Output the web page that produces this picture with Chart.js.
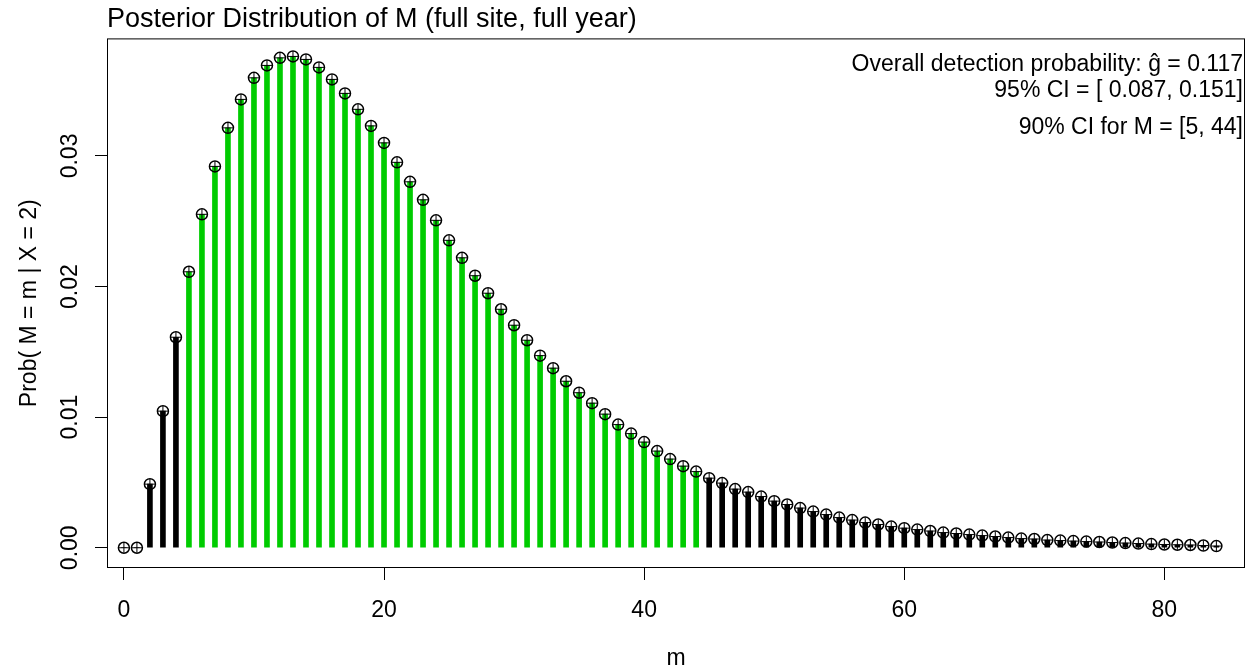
<!DOCTYPE html>
<html>
<head>
<meta charset="utf-8">
<script src="https://cdn.jsdelivr.net/npm/chart.js@4.4.1/dist/chart.umd.min.js"></script>
<style>
  html, body { margin: 0; padding: 0; background: #fff; }
</style>
</head>
<body>
<canvas id="c" width="1259" height="668"></canvas>
<script>
// m values (categories)
const mValues = [0, 1, 2, 3, 4, 5, 6, 7, 8, 9, 10, 11, 12, 13, 14, 15, 16, 17, 18, 19, 20,
  21, 22, 23, 24, 25, 26, 27, 28, 29, 30, 31, 32, 33, 34, 35, 36, 37, 38, 39, 40,
  41, 42, 43, 44, 45, 46, 47, 48, 49, 50, 51, 52, 53, 54, 55, 56, 57, 58, 59, 60,
  61, 62, 63, 64, 65, 66, 67, 68, 69, 70, 71, 72, 73, 74, 75, 76, 77, 78, 79, 80,
  81, 82, 83, 84];

// Prob(M = m | X = 2)
const probValues = [0, 0, 0.00487, 0.01046, 0.01612, 0.02113, 0.02553, 0.02920, 0.03215, 0.03433,
  0.03598, 0.03693, 0.03751, 0.03762, 0.03739, 0.03678, 0.03586, 0.03479, 0.03357, 0.03230,
  0.03100, 0.02951, 0.02802, 0.02664, 0.02507, 0.02354, 0.02220, 0.02083, 0.01949, 0.01826,
  0.01704, 0.01589, 0.01471, 0.01375, 0.01275, 0.01187, 0.01107, 0.01023, 0.00943, 0.00874,
  0.00809, 0.00740, 0.00679, 0.00625, 0.00583, 0.00533, 0.00495, 0.00449, 0.00426, 0.00392,
  0.00357, 0.00331, 0.00304, 0.00277, 0.00254, 0.00231, 0.00212, 0.00193, 0.00178, 0.00162,
  0.00150, 0.00139, 0.00128, 0.00116, 0.00109, 0.00101, 0.00093, 0.00086, 0.00078, 0.00070,
  0.00067, 0.00059, 0.00055, 0.00051, 0.00047, 0.00044, 0.00040, 0.00036, 0.00032, 0.00028,
  0.00025, 0.00023, 0.00021, 0.00017, 0.00013];

// 90% credible interval for M
const ciLow = 5;
const ciHigh = 44;

// tick labels
const xTickVals = [0, 20, 40, 60, 80];
const yTickVals = [0, 0.01, 0.02, 0.03];

const noteLines = [
  "Overall detection probability: \u011d = 0.117",
  "95% CI = [ 0.087, 0.151]",
  "90% CI for M = [5, 44]"
];

const FONT = "'Liberation Sans', Arial, sans-serif";

const points = mValues.map((m, i) => ({ x: m, y: probValues[i] }));
const stemColors = mValues.map((m) => (m >= ciLow && m <= ciHigh ? "#00cc00" : "#000000"));

// frame, rotated y labels and the text in the corner
const extrasPlugin = {
  id: "extras",
  afterDraw(chart) {
    const ctx = chart.ctx;
    const a = chart.chartArea;
    const ys = chart.scales.y;
    ctx.save();
    ctx.strokeStyle = "#000";
    ctx.lineWidth = 1;
    ctx.strokeRect(a.left + 0.5, a.top + 0.5, a.right - a.left - 1, a.bottom - a.top - 1);

    ctx.fillStyle = "#000";
    ctx.font = "23px " + FONT;
    ctx.textAlign = "center";
    ctx.textBaseline = "middle";
    yTickVals.forEach((v) => {
      const py = ys.getPixelForValue(v);
      ctx.save();
      ctx.translate(71, py);
      ctx.rotate(-Math.PI / 2);
      ctx.fillText(v.toFixed(2), 0, 0);
      ctx.restore();
    });

    ctx.textAlign = "right";
    const lineY = [65, 91, 128];
    noteLines.forEach((t, i) => ctx.fillText(t, 1243, lineY[i]));
    ctx.restore();
  }
};

new Chart(document.getElementById("c"), {
  data: {
    datasets: [
      {
        type: "scatter",
        data: points,
        pointStyle: "circle",
        pointRadius: 5.5,
        pointBorderWidth: 1.5,
        pointBorderColor: "#000",
        pointBackgroundColor: "rgba(0,0,0,0)",
        order: 1
      },
      {
        type: "scatter",
        data: points,
        pointStyle: "cross",
        pointRadius: 5,
        pointBorderWidth: 1,
        pointBorderColor: "#000",
        order: 1
      },
      {
        type: "bar",
        data: points,
        backgroundColor: stemColors,
        barThickness: 5,
        grouped: false,
        order: 2
      }
    ]
  },
  options: {
    responsive: false,
    animation: false,
    layout: { padding: { top: 0, right: 14, left: 0, bottom: 0 } },
    plugins: {
      legend: { display: false },
      tooltip: { enabled: false },
      title: {
        display: true,
        text: "Posterior Distribution of M (full site, full year)",
        align: "start",
        fullSize: false,
        color: "#000",
        font: { family: FONT, size: 27, weight: "normal" },
        padding: { top: 3, bottom: 3 }
      }
    },
    scales: {
      x: {
        type: "linear",
        min: -1.3,
        max: 86.2,
        offset: false,
        afterBuildTicks: (s) => { s.ticks = xTickVals.map((v) => ({ value: v })); },
        afterFit: (s) => { s.height = 100; },
        border: { display: false },
        grid: { offset: false, drawOnChartArea: false, drawTicks: true, tickLength: 12, color: "#000", tickWidth: 1 },
        ticks: { color: "#000", font: { family: FONT, size: 23 }, padding: 17, maxRotation: 0 },
        title: { display: true, text: "m", color: "#000", font: { family: FONT, size: 23 }, padding: { top: 0, bottom: -4 } }
      },
      y: {
        type: "linear",
        min: -0.00155,
        max: 0.0390,
        afterBuildTicks: (s) => { s.ticks = yTickVals.map((v) => ({ value: v })); },
        afterFit: (s) => { s.width = 107; },
        border: { display: false },
        grid: { drawOnChartArea: false, drawTicks: true, tickLength: 12, color: "#000", tickWidth: 1 },
        ticks: { display: false },
        title: {
          display: true,
          text: "Prob( M = m | X = 2)",
          color: "#000",
          font: { family: FONT, size: 23 },
          padding: { top: 16, bottom: 0 }
        }
      }
    }
  },
  plugins: [extrasPlugin]
});
</script>
</body>
</html>
